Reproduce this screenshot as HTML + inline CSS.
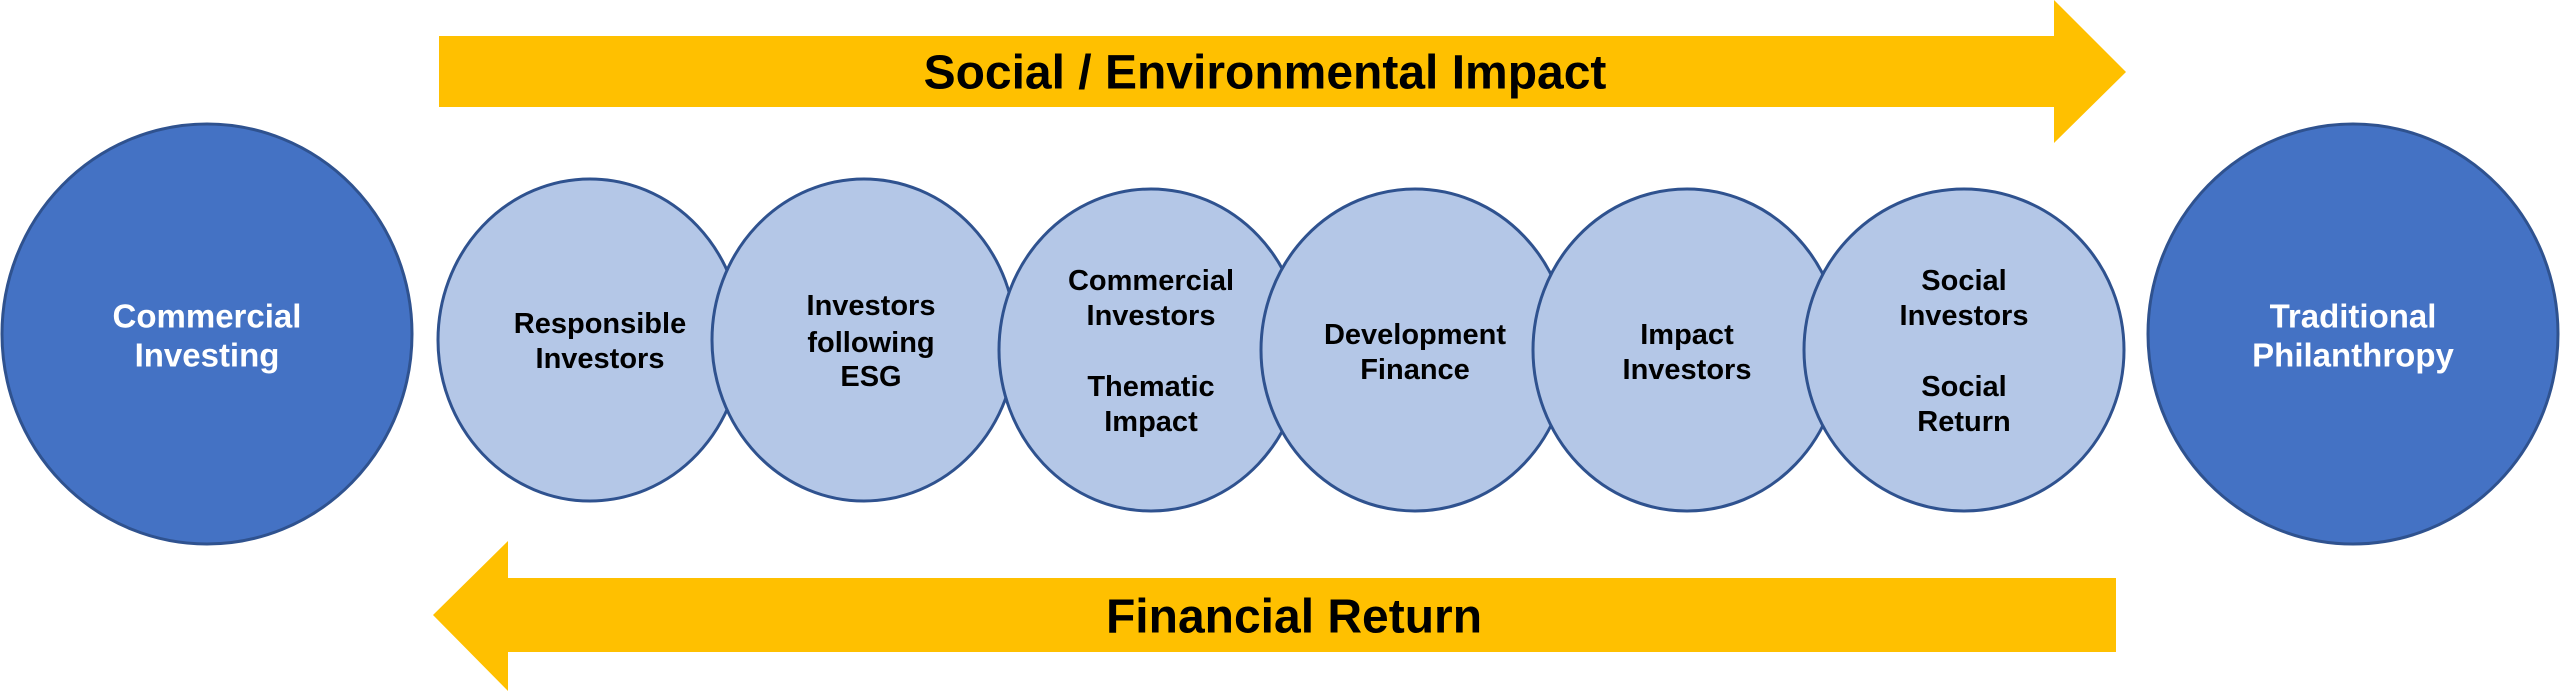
<!DOCTYPE html>
<html><head><meta charset="utf-8"><style>
html,body{margin:0;padding:0;background:#fff;}
svg{display:block;}
text{font-family:"Liberation Sans",Arial,sans-serif;font-weight:bold;text-anchor:middle;dominant-baseline:central;}
</style></head><body>
<svg width="2560" height="691" viewBox="0 0 2560 691" xmlns="http://www.w3.org/2000/svg">
<polygon points="439,36 2054,36 2054,0 2126,72 2054,143 2054,107 439,107" fill="#FFC000"/>
<text x="1265" y="73" font-size="48" fill="#000">Social / Environmental Impact</text>
<polygon points="2116,578 508,578 508,541 433,615 508,691 508,652 2116,652" fill="#FFC000"/>
<text x="1294" y="617" font-size="48" fill="#000">Financial Return</text>

<g stroke="#2F528F" stroke-width="3">
<ellipse cx="207" cy="334" rx="205" ry="210" fill="#4472C4"/>
<ellipse cx="2353" cy="334" rx="205" ry="210" fill="#4472C4"/>
<ellipse cx="590" cy="340" rx="152" ry="161" fill="#B4C7E7"/>
<ellipse cx="864" cy="340" rx="152" ry="161" fill="#B4C7E7"/>
<ellipse cx="1151" cy="350" rx="152" ry="161" fill="#B4C7E7"/>
<ellipse cx="1415" cy="350" rx="154" ry="161" fill="#B4C7E7"/>
<ellipse cx="1687" cy="350" rx="154" ry="161" fill="#B4C7E7"/>
<ellipse cx="1964" cy="350" rx="160" ry="161" fill="#B4C7E7"/>
</g>

<g font-size="33" fill="#fff">
<text x="207" y="316">Commercial</text><text x="207" y="355">Investing</text>
<text x="2353" y="316">Traditional</text><text x="2353" y="355">Philanthropy</text>
</g>
<g font-size="29" fill="#000">
<text x="600" y="324">Responsible</text><text x="600" y="359">Investors</text>
<text x="871" y="306">Investors</text><text x="871" y="343">following</text><text x="871" y="377">ESG</text>
<text x="1151" y="281">Commercial</text><text x="1151" y="316">Investors</text>
<text x="1151" y="387">Thematic</text><text x="1151" y="422">Impact</text>
<text x="1415" y="335">Development</text><text x="1415" y="370">Finance</text>
<text x="1687" y="335">Impact</text><text x="1687" y="370">Investors</text>
<text x="1964" y="281">Social</text><text x="1964" y="316">Investors</text>
<text x="1964" y="387">Social</text><text x="1964" y="422">Return</text>
</g>
</svg>
</body></html>
